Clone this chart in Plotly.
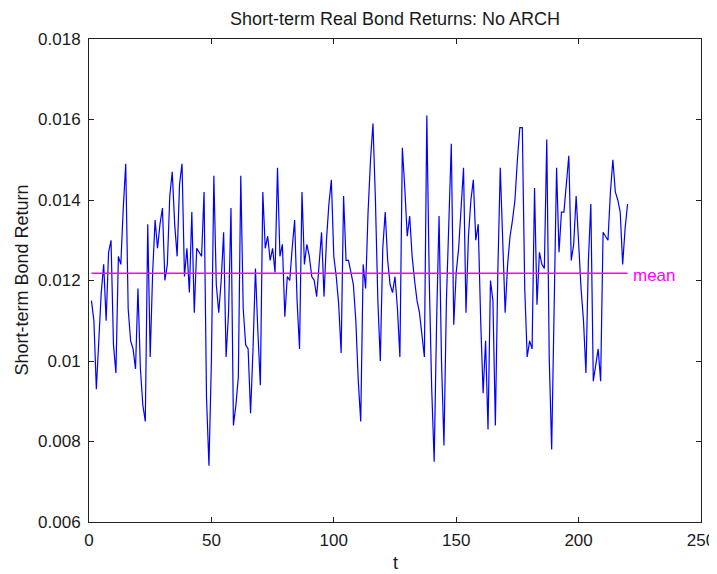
import plotly.graph_objects as go

# Short-term real bond returns, t = 1..220
returns = [
    0.0115, 0.0110, 0.0093, 0.0104, 0.0117, 0.0124, 0.0110, 0.0127, 0.0130, 0.0104,
    0.0097, 0.0126, 0.0124, 0.0138, 0.0149, 0.0113, 0.0105, 0.0103, 0.0098, 0.0118,
    0.0098, 0.0089, 0.0085, 0.0134, 0.0101, 0.0122, 0.0135, 0.0128, 0.0134, 0.0138,
    0.0120, 0.0124, 0.0141, 0.0147, 0.0134, 0.0126, 0.0144, 0.0149, 0.0121, 0.0128,
    0.0117, 0.0137, 0.0112, 0.0128, 0.0127, 0.0126, 0.0142, 0.0091, 0.0074, 0.0100,
    0.0146, 0.0119, 0.0112, 0.0120, 0.0132, 0.0101, 0.0112, 0.0138, 0.0084, 0.0089,
    0.0096, 0.0146, 0.0113, 0.0104, 0.0103, 0.0087, 0.0103, 0.0123, 0.0107, 0.0094,
    0.0142, 0.0128, 0.0131, 0.0125, 0.0128, 0.0122, 0.0148, 0.0126, 0.0129, 0.0111,
    0.0121, 0.0120, 0.0128, 0.0135, 0.0115, 0.0103, 0.0142, 0.0124, 0.0129, 0.0126,
    0.0121, 0.0120, 0.0116, 0.0124, 0.0132, 0.0116, 0.0130, 0.0139, 0.0145, 0.0126,
    0.0121, 0.0114, 0.0102, 0.0141, 0.0125, 0.0125, 0.0122, 0.0119, 0.0110, 0.0095,
    0.0085, 0.0124, 0.0118, 0.0137, 0.0150, 0.0159, 0.0140, 0.0115, 0.0100, 0.0128,
    0.0137, 0.0125, 0.0119, 0.0117, 0.0121, 0.0113, 0.0101, 0.0153, 0.0143, 0.0131,
    0.0136, 0.0126, 0.0120, 0.0115, 0.0112, 0.0106, 0.0101, 0.0161, 0.0120, 0.0093,
    0.0075, 0.0110, 0.0136, 0.0100, 0.0079, 0.0115, 0.0132, 0.0154, 0.0109, 0.0122,
    0.0128, 0.0138, 0.0148, 0.0112, 0.0131, 0.0140, 0.0145, 0.0130, 0.0134, 0.0110,
    0.0092, 0.0105, 0.0083, 0.0120, 0.0115, 0.0084, 0.0122, 0.0148, 0.0130, 0.0112,
    0.0124, 0.0131, 0.0135, 0.0140, 0.0150, 0.0158, 0.0158, 0.0118, 0.0101, 0.0105,
    0.0103, 0.0143, 0.0114, 0.0127, 0.0124, 0.0123, 0.0155, 0.0101, 0.0078, 0.0110,
    0.0148, 0.0127, 0.0137, 0.0137, 0.0145, 0.0151, 0.0125, 0.0129, 0.0141, 0.0129,
    0.0118, 0.0110, 0.0097, 0.0125, 0.0139, 0.0095, 0.0099, 0.0103, 0.0095, 0.0132,
    0.0131, 0.0130, 0.0142, 0.0150, 0.0142, 0.0140, 0.0137, 0.0124, 0.0133, 0.0139,
]
t_values = list(range(1, len(returns) + 1))
mean_return = 0.01218

x_ticks = [0, 50, 100, 150, 200, 250]
y_ticks = [0.006, 0.008, 0.010, 0.012, 0.014, 0.016, 0.018]
y_tick_labels = ["0.006", "0.008", "0.01", "0.012", "0.014", "0.016", "0.018"]

title_text = "Short-term Real Bond Returns: No ARCH"
x_label = "t"
y_label = "Short-term Bond Return"
mean_label = "mean"

FONT = "Liberation Sans, Arial, Helvetica, sans-serif"
TXT = "#1a1a1a"

# The page body has an 8px margin, so the figure is sized to fit in 717x574.
W, H = 709, 566
ML, MR, MT, MB = 81, 16, 31, 52
PW, PH = W - ML - MR, H - MT - MB

fig = go.Figure()
fig.add_trace(go.Scatter(
    x=t_values, y=returns, mode="lines",
    line=dict(color="rgb(0,0,255)", width=1.2),
    showlegend=False, hoverinfo="x+y",
))
fig.add_trace(go.Scatter(
    x=[t_values[0], t_values[-1]], y=[mean_return, mean_return], mode="lines",
    line=dict(color="rgb(255,0,255)", width=1.3),
    showlegend=False, hoverinfo="y",
))

fig.add_annotation(
    x=t_values[-1] + 1.5, y=mean_return, xref="x", yref="y",
    text=mean_label, showarrow=False, xanchor="left", yanchor="middle", yshift=-2,
    font=dict(family=FONT, size=17, color="rgb(255,0,255)"),
)

axis_common = dict(
    showline=True, linecolor="#222", linewidth=1, mirror="ticks",
    ticks="inside", ticklen=5, tickcolor="#222", tickwidth=1,
    showgrid=False, zeroline=False, automargin=False,
    tickfont=dict(family=FONT, size=17, color=TXT),
)

fig.update_layout(
    width=W, height=H,
    margin=dict(l=ML, r=MR, t=MT, b=MB, autoexpand=False),
    paper_bgcolor="white", plot_bgcolor="white",
    font=dict(family=FONT, size=17, color=TXT),
    title=dict(text=title_text, x=(ML + PW / 2) / W, xanchor="center",
               y=1 - 11 / H, yanchor="middle", yref="container",
               font=dict(family=FONT, size=18, color=TXT)),
    xaxis=dict(range=[0, 250], tickvals=x_ticks, ticklabelstandoff=3, **axis_common),
    yaxis=dict(range=[0.006, 0.018], tickvals=y_ticks, ticktext=y_tick_labels,
               ticklabelstandoff=4, **axis_common),
    annotations=list(fig.layout.annotations) + [
        dict(text=x_label, x=0.5, y=-41 / PH, xref="paper", yref="paper",
             showarrow=False, xanchor="center", yanchor="middle",
             font=dict(family=FONT, size=18, color=TXT)),
        dict(text=y_label, x=-68 / PW, y=0.5, xref="paper", yref="paper",
             showarrow=False, xanchor="center", yanchor="middle", textangle=-90,
             font=dict(family=FONT, size=18, color=TXT)),
    ],
)

fig.write_html("out.html")
